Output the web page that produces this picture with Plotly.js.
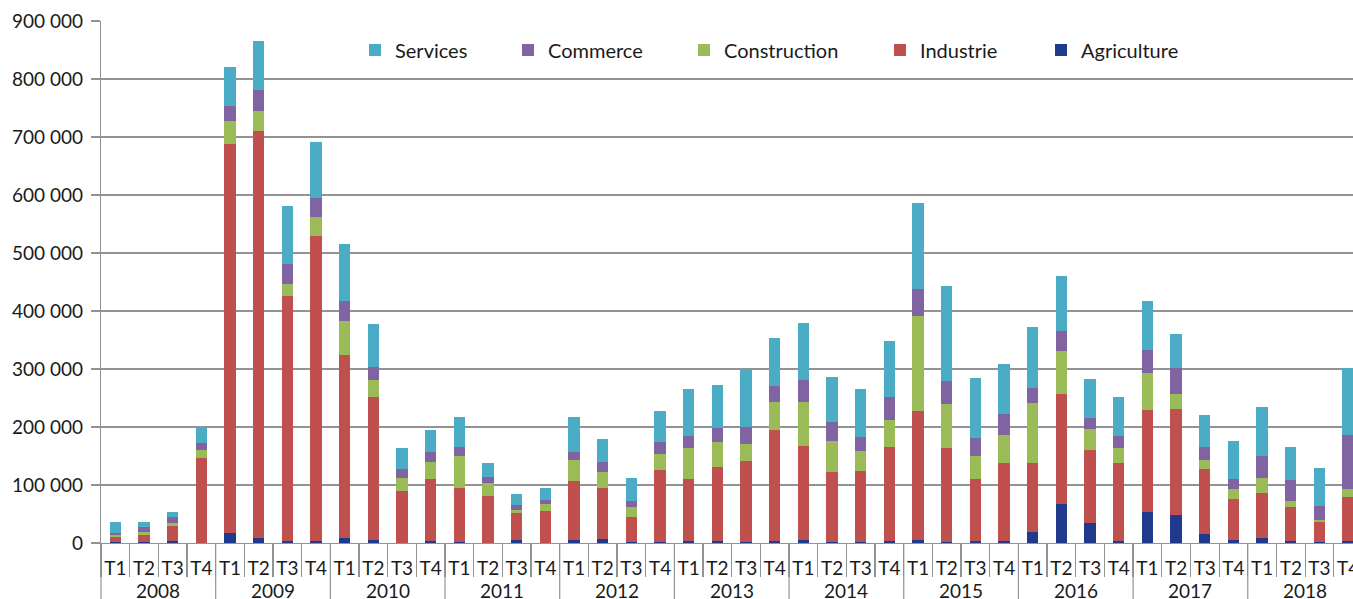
<!DOCTYPE html>
<html><head><meta charset="utf-8">
<script src="https://cdn.plot.ly/plotly-3.0.1.min.js"></script>
<style>html,body{margin:0;padding:0;overflow:hidden;background:#fff}#chart{width:1353px;height:599px}</style>
</head><body><div id="chart"></div>
<script>
const years = ['2008','2009','2010','2011','2012','2013','2014','2015','2016','2017','2018'];
const quarters = ['T1','T2','T3','T4'];

const agriculture = [1000,2000,2600,500, 16500,9200,2600,2600, 8000,6000,700,2600, 2000,700,5300,300, 6000,7300,1000,1000, 3300,2600,1500,4000, 6000,1000,1500,4000, 6000,1000,2600,3300, 18500,66700,34300,4000, 53500,48200,15800,6000, 8600,4000,1000,4000];
const industrie = [9000,12500,26400,146500, 671500,701800,423400,526400, 316000,245000,88300,108400, 93000,79800,46200,54500, 101000,86700,44500,124400, 106300,128100,139500,190700, 161700,121000,123300,162000, 221000,162700,107000,134000, 120100,190700,126100,133300, 175500,182200,112200,70600, 77200,58700,34600,74500];
const construction = [4000,5300,6000,14000, 40000,33000,21000,33000, 59000,29500,23000,29000, 55000,23100,5300,13200, 36000,28000,15900,28400, 54100,42900,29000,48300, 75300,54000,33600,46500, 164000,75900,40900,49500, 102400,73300,37000,25700, 63400,26400,14600,17100, 26200,9300,3400,15200];
const commerce = [4000,7200,9900,12000, 26000,37500,33500,33000, 34000,23500,15000,17000, 15000,9400,7900,6000, 13400,17000,11200,19800, 21100,25100,30000,28000, 38000,32600,25100,39500, 47000,39400,30500,35600, 26300,35300,17600,21000, 40900,44200,22400,16300, 38000,37000,24400,91800];
const services = [19000,9300,7900,26000, 66000,84500,100500,96000, 98000,74000,37000,37000, 51500,25600,19100,21000, 60100,40000,39400,53400, 80200,73900,98000,82000, 99000,78400,81500,96500, 148000,164000,103500,85600, 104300,94000,68000,68000, 83200,60000,55500,66000, 85000,57000,65300,116500];

const seriesNames = ['Agriculture','Industrie','Construction','Commerce','Services'];
const seriesColors = ['#1F3A8C','#C0504D','#9BBB59','#8064A2','#4BACC6'];
const seriesValues = [agriculture, industrie, construction, commerce, services];
const legendIds = ['legend5','legend4','legend3','legend2','legend'];
const legendTextStart = {legend:392, legend2:545, legend3:721, legend4:917, legend5:1078};

// category keys (year + quarter) and their displayed quarter labels
const catKeys = years.flatMap(y => quarters.map(q => y + ' ' + q));
const catLabels = years.flatMap(() => quarters);

const W = 1353, H = 599;
const ML = 101, MR = 0, MT = 21, MB = 56;
const PW = W - ML - MR, PH = H - MT - MB;
const XR = [-0.5, 43.17];
const FONT = 'Lato, "Open Sans", sans-serif';
const GRAY = '#939393';
const TXT = '#1a1a1a';

const traces = seriesNames.map((name, i) => ({
  type: 'bar',
  name: name,
  x: catKeys,
  y: seriesValues[i],
  marker: {color: seriesColors[i], line: {width: 0}},
  legend: legendIds[i],
  hoverinfo: 'name+y'
}));

const nq = quarters.length;
// year labels centred under each group of quarters
const yearAnnotations = years.map((yr, g) => ({
  xref: 'x', yref: 'paper',
  x: g * nq + (nq - 1) / 2,
  y: -(590 - (H - MB)) / PH,
  yanchor: 'middle', xanchor: 'center',
  text: yr, showarrow: false,
  font: {family: FONT, size: 19, color: TXT}
}));
// long dividers between years
const dividerShapes = years.concat(['end']).map((yr, g) => {
  const xp = (g * nq - 0.5 - XR[0]) / (XR[1] - XR[0]);
  return {
    type: 'line', xref: 'paper', yref: 'paper',
    x0: xp, x1: xp, y0: 0, y1: -MB / PH,
    line: {color: GRAY, width: 1.2}
  };
}).filter(s => s.x0 <= 1);

const layout = {
  width: W, height: H,
  margin: {l: ML, r: MR, t: MT, b: MB, autoexpand: false},
  paper_bgcolor: '#fff', plot_bgcolor: '#fff',
  barmode: 'stack',
  bargap: 0.605,
  separators: ', ',
  font: {family: FONT, color: TXT},
  xaxis: {
    type: 'category',
    range: XR,
    tickmode: 'array', tickvals: catKeys, ticktext: catLabels,
    tickson: 'boundaries',
    showgrid: false,
    showline: true, linecolor: GRAY, linewidth: 1.2,
    ticks: 'outside', ticklen: 33, tickcolor: GRAY, tickwidth: 1.2,
    tickangle: 0,
    ticklabelstandoff: 8,
    tickfont: {family: FONT, size: 19, color: TXT}
  },
  yaxis: {
    range: [0, 900000], tick0: 0, dtick: 100000,
    showgrid: true, gridcolor: GRAY, gridwidth: 1.2,
    zeroline: false,
    showline: true, linecolor: GRAY, linewidth: 1.2,
    ticks: 'outside', ticklen: 9, tickcolor: GRAY, tickwidth: 1.2,
    tickformat: ',d',
    ticklabelstandoff: 4,
    tickfont: {family: FONT, size: 19, color: TXT}
  },
  annotations: yearAnnotations,
  shapes: dividerShapes,
  showlegend: true
};

Object.keys(legendTextStart).forEach(id => {
  layout[id] = {
    orientation: 'h',
    xref: 'paper', yref: 'paper',
    x: (legendTextStart[id] - 37 - ML) / PW, xanchor: 'left',
    y: (H - MB - 50) / PH, yanchor: 'middle',
    bgcolor: 'rgba(0,0,0,0)', borderwidth: 0,
    font: {family: FONT, size: 20, color: TXT}
  };
});

Plotly.newPlot('chart', traces, layout, {displayModeBar: false, staticPlot: true});
</script>
</body></html>
